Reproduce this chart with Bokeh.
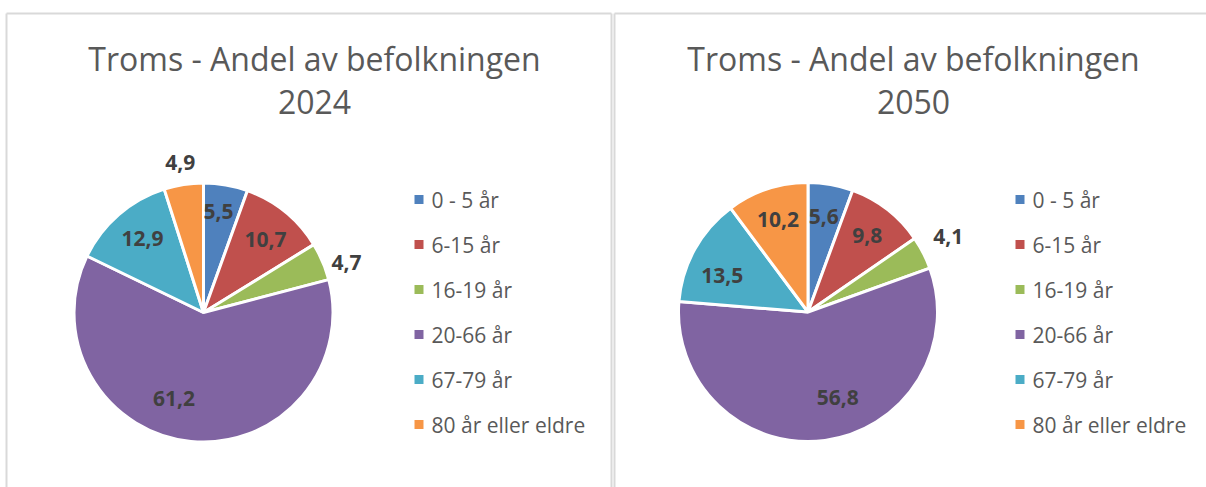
import math
from bokeh.plotting import figure
from bokeh.models import Range1d, ColumnDataSource
from bokeh.core.properties import value
from bokeh.embed import file_html
from bokeh.resources import INLINE

# ---------------- data ----------------
categories = ["0 - 5 år", "6-15 år", "16-19 år", "20-66 år", "67-79 år", "80 år eller eldre"]
share_2024 = [5.5, 10.7, 4.7, 61.2, 12.9, 4.9]
share_2050 = [5.6, 9.8, 4.1, 56.8, 13.5, 10.2]
years = ["2024", "2050"]
title_text = "Troms - Andel av befolkningen"

# ---------------- style ----------------
colors = ["#4F81BD", "#C0504D", "#9BBB59", "#8064A2", "#4BACC6", "#F79646"]
FONT = "Open Sans"
TITLE_COLOR = "#595959"
LABEL_COLOR = "#404040"
BORDER_COLOR = "#D9D9D9"

W, H = 1206, 487
OX, OY = 0, 0


def X(px):
    return px - OX


def Y(py):
    return H - (py - OY)


panels = [
    dict(values=share_2024, year=years[0], left=6, right=611, cx=203, cy=312, tcx=314,
         leg_x=414, lab_off=[-1.5, 1.3, 3.8, 13.4, 1.4, 0.0],
         lab_r=[0.79, 0.74, 1.17, 0.70, 0.74, 1.17]),
    dict(values=share_2050, year=years[1], left=614, right=1220, cx=807.5, cy=311.5, tcx=913,
         leg_x=1015, lab_off=[-0.7, -0.2, -1.1, -11.6, -5.7, 0.4],
         lab_r=[0.75, 0.75, 1.23, 0.70, 0.72, 0.75]),
]
R = 129.5
PANEL_TOP = 13
TITLE_Y = [58, 101]
LEG_TOP = 199
LEG_STEP = 45
SQ = 9

p = figure(width=W, height=H, x_range=Range1d(0, W), y_range=Range1d(0, H),
           output_backend="svg", toolbar_location=None, min_border=0,
           x_axis_type=None, y_axis_type=None)
p.grid.visible = False
p.outline_line_color = None
p.background_fill_color = "white"
p.border_fill_color = "white"

# panel borders
for pn in panels:
    lx = X(pn["left"])
    rx = X(pn["right"])
    ty = Y(PANEL_TOP)
    xs = [[lx, rx], [lx, lx], [rx, rx]]
    ys = [[ty, ty], [ty, -5], [ty, -5]]
    p.multi_line(xs, ys, line_color=BORDER_COLOR, line_width=2)

for pn in panels:
    vals = pn["values"]
    total = sum(vals)
    cum = 0.0
    starts, ends, mids = [], [], []
    for v in vals:
        a0 = cum / total
        cum += v
        a1 = cum / total
        # clockwise from 12 o'clock
        starts.append(math.pi / 2 - a1 * 2 * math.pi)
        ends.append(math.pi / 2 - a0 * 2 * math.pi)
        mids.append((a0 + a1) / 2 * 360.0)
    cx, cy = X(pn["cx"]), Y(pn["cy"])
    src = ColumnDataSource(dict(start=starts, end=ends, color=colors))
    p.wedge(x=cx, y=cy, radius=R, radius_units="screen", start_angle="start", end_angle="end",
            direction="anticlock", fill_color="color", line_color="white", line_width=3, source=src)

    # data labels
    lx, ly, lt = [], [], []
    for i, v in enumerate(vals):
        ang = math.radians(mids[i] + pn["lab_off"][i])
        r = R * pn["lab_r"][i]
        lx.append(cx + r * math.sin(ang))
        ly.append(cy + r * math.cos(ang))
        lt.append(f"{v:.1f}".replace(".", ","))
    p.text(x=lx, y=ly, text=lt, text_font=value(FONT), text_font_style="bold",
           text_font_size="21px", text_color=LABEL_COLOR, text_align="center",
           text_baseline="middle")

    # title
    p.text(x=[X(pn["tcx"]), X(pn["tcx"])], y=[Y(TITLE_Y[0]), Y(TITLE_Y[1])],
           text=[title_text, pn["year"]],
           text_font=value(FONT), text_font_size="32px", text_color=TITLE_COLOR,
           text_align="center", text_baseline="middle")

    # legend
    rows = [Y(LEG_TOP + i * LEG_STEP) for i in range(len(categories))]
    p.rect(x=[X(pn["leg_x"] + SQ / 2)] * len(categories), y=rows, width=SQ, height=SQ,
           width_units="screen", height_units="screen", fill_color=colors, line_color=None)
    p.text(x=[X(pn["leg_x"] + 17)] * len(categories), y=rows, text=categories,
           text_font=value(FONT), text_font_size="21px", text_color=TITLE_COLOR,
           text_align="left", text_baseline="middle")

open("out.html", "w").write(file_html(p, INLINE))
